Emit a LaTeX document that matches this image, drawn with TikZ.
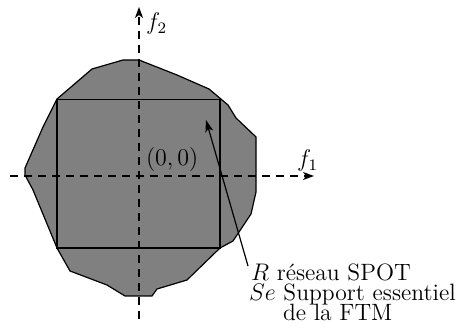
\documentclass[tikz,border=0pt]{standalone}
\usetikzlibrary{arrows.meta}
\begin{document}
\begin{tikzpicture}[x=0.5pt,y=-0.5pt,
  axis/.style={line width=0.6pt,dash pattern=on 4pt off 3pt,-{Stealth[length=5.5pt,width=4pt,inset=1.5pt]}},
  outline/.style={line width=0.6pt},
  lbl/.style={anchor=base west,inner sep=0pt,outer sep=0pt,font=\fontsize{11.8}{14}\selectfont}]
\useasboundingbox (0,0) rectangle (464,335);
\draw[black,line width=0.6pt,fill=black!50]
 (123,60) -- (139,60) -- (177,75) -- (209,89) -- (228,105) -- (236,118) -- (256,137)
 -- (256,192) -- (251,214) -- (233,241) -- (220,248) -- (187,280) -- (157,289) -- (152,296)
 -- (125,296) -- (107,285) -- (70,271) -- (57,248) -- (33,190) -- (25,175) -- (25,168)
 -- (43,127) -- (57,99) -- (92,69) -- cycle;
\draw[outline] (57,99.5) rectangle (220,248);
\coordinate (xs) at (10,176);
\coordinate (xe) at (314,176);
\coordinate (ys) at (139,319);
\coordinate (ye) at (139,7);
\draw[axis] (xs) -- (xe);
\draw[axis] (ys) -- (ye);
\node[lbl] (f2) at (146,30) {$f_2$};
\node[lbl] (f1) at (297,167) {$f_1$};
\node[lbl] (o) at (146,166) {$(0,0)$};
\node[lbl] (t1) at (251,281) {$R$ réseau SPOT};
\node[lbl] (t2) at (249,300) {$Se$ Support essentiel};
\node[lbl] (t3) at (283,320) {de la FTM};
\coordinate (pstart) at (248,266);
\coordinate (ptip) at (206,120);
\draw[line width=0.6pt,-{Stealth[length=6pt,width=4pt,inset=1.5pt]}] (pstart) -- (ptip);
\end{tikzpicture}
\end{document}
